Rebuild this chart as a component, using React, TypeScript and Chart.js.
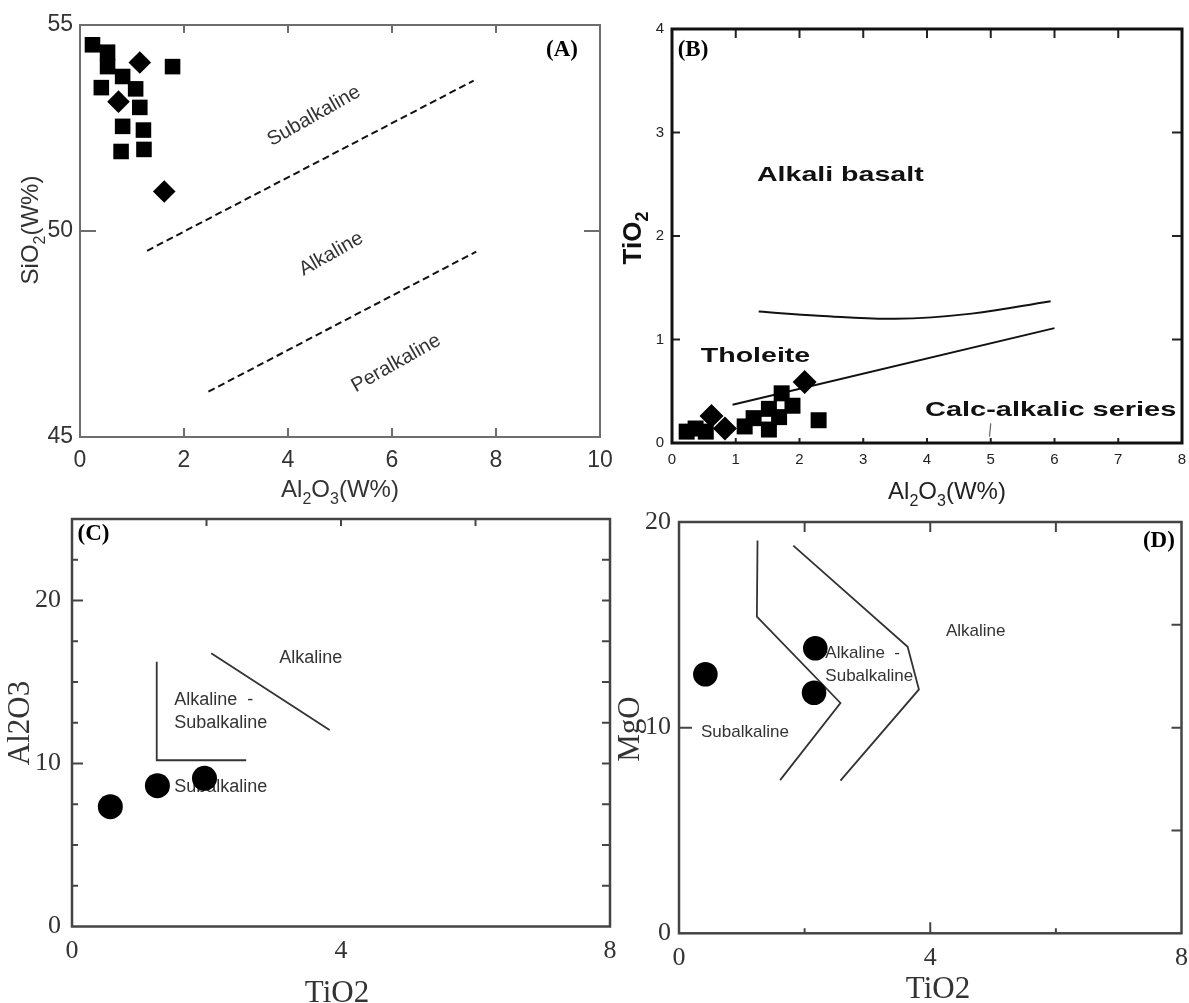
import React, { useEffect, useRef } from "react";
import { Chart, registerables } from "chart.js";

Chart.register(...registerables);

// ---------------- Panel A : SiO2 vs Al2O3 ----------------
const A_SQ_X = [0.24, 0.53, 0.53, 0.82, 0.41, 1.07, 1.78, 1.15, 0.82, 1.22, 0.79, 1.23];
const A_SQ_Y = [54.52, 54.34, 53.99, 53.75, 53.48, 53.45, 53.99, 53.0, 52.54, 52.45, 51.93, 51.98];
const A_DI_X = [1.15, 0.74, 1.62];
const A_DI_Y = [54.09, 53.14, 50.96];
const A_DASH1_X = [1.29, 7.57];
const A_DASH1_Y = [49.52, 53.65];
const A_DASH2_X = [2.47, 7.62];
const A_DASH2_Y = [46.1, 49.5];
const A_X_TICKS = [0, 2, 4, 6, 8, 10];
const A_Y_TICKS = [45, 50, 55];

// ---------------- Panel B : TiO2 vs Al2O3 ----------------
const B_SQ_X = [0.23, 0.37, 0.53, 1.14, 1.28, 1.52, 1.52, 1.68, 1.72, 1.89, 2.3];
const B_SQ_Y = [0.11, 0.14, 0.11, 0.16, 0.24, 0.13, 0.33, 0.25, 0.48, 0.36, 0.22];
const B_DI_X = [0.62, 0.83, 2.08];
const B_DI_Y = [0.26, 0.14, 0.59];
const B_UPPER_X = [1.36, 2.3, 3.5, 4.7, 5.94];
const B_UPPER_Y = [1.27, 1.23, 1.2, 1.25, 1.37];
const B_LOWER_X = [0.95, 6.0];
const B_LOWER_Y = [0.37, 1.11];
const B_MARK_X = [5.0, 4.98];
const B_MARK_Y = [0.19, 0.06];
const B_X_TICKS = [0, 1, 2, 3, 4, 5, 6, 7, 8];
const B_Y_TICKS = [0, 1, 2, 3, 4];

// ---------------- Panel C : Al2O3 vs TiO2 ----------------
const C_PTS_X = [0.57, 1.27, 1.97];
const C_PTS_Y = [7.35, 8.64, 9.09];
const C_L_X = [1.26, 1.26, 2.59];
const C_L_Y = [16.25, 10.2, 10.2];
const C_DIAG_X = [2.07, 3.83];
const C_DIAG_Y = [16.76, 12.06];
const C_X_TICKS = [0, 4, 8];
const C_Y_TICKS = [0, 10, 20];

// ---------------- Panel D : MgO vs TiO2 ----------------
const D_PTS_X = [0.42, 2.17, 2.15];
const D_PTS_Y = [12.6, 13.86, 11.7];
const D_IN_X = [1.25, 1.24, 2.57, 1.61];
const D_IN_Y = [19.1, 15.4, 11.2, 7.45];
const D_OUT_X = [1.82, 3.64, 3.82, 2.57];
const D_OUT_Y = [18.85, 13.93, 11.86, 7.42];
const D_X_TICKS = [0, 4, 8];
const D_Y_TICKS = [0, 10, 20];

const SANS = "'Liberation Sans', Arial, sans-serif";
const SERIF = "'Liberation Serif', 'Times New Roman', serif";

const pts = (xs: number[], ys: number[]) => xs.map((x, i) => ({ x, y: ys[i] }));

type Part = { t: string; sub?: boolean };
type TickMark = { v: number; l: number };
type Label = {
  text: string;
  x: number;
  y: number;
  font: string;
  color: string;
  align?: CanvasTextAlign;
  rot?: number;
  sx?: number;
};
type Title = {
  parts: Part[];
  size: number;
  family: string;
  weight?: string;
  color: string;
  cx: number;
  base: number;
  vertical?: boolean;
};
type Deco = {
  frameColor: string;
  frameWidth: number;
  tickColor: string;
  tickWidth: number;
  top?: TickMark[];
  bottom?: TickMark[];
  left?: TickMark[];
  right?: TickMark[];
  labels: Label[];
  titles: Title[];
};

const marks = (vals: number[], l: number): TickMark[] => vals.map((v) => ({ v, l }));

function drawTitle(ctx: CanvasRenderingContext2D, t: Title) {
  const w = t.weight || "normal";
  const mainFont = `${w} ${t.size}px ${t.family}`;
  const subFont = `${w} ${Math.round(t.size * 0.68)}px ${t.family}`;
  const widths = t.parts.map((p) => {
    ctx.font = p.sub ? subFont : mainFont;
    return ctx.measureText(p.t).width;
  });
  const total = widths.reduce((a, b) => a + b, 0);
  ctx.save();
  if (t.vertical) {
    ctx.translate(t.base, t.cx);
    ctx.rotate(-Math.PI / 2);
  } else {
    ctx.translate(t.cx, t.base);
  }
  ctx.fillStyle = t.color;
  ctx.textBaseline = "alphabetic";
  ctx.textAlign = "left";
  let x = -total / 2;
  t.parts.forEach((p, i) => {
    ctx.font = p.sub ? subFont : mainFont;
    ctx.fillText(p.t, x, p.sub ? t.size * 0.28 : 0);
    x += widths[i];
  });
  ctx.restore();
}

function makeDeco(cfg: Deco) {
  return {
    id: "deco",
    beforeDatasetsDraw(chart: any) {
      const { ctx, chartArea: a, scales } = chart;
      const xs = scales.x;
      const ys = scales.y;
      ctx.save();
      for (const t of cfg.labels) {
        ctx.save();
        ctx.translate(xs.getPixelForValue(t.x), ys.getPixelForValue(t.y));
        if (t.rot) ctx.rotate((t.rot * Math.PI) / 180);
        if (t.sx) ctx.scale(t.sx, 1);
        ctx.font = t.font;
        ctx.fillStyle = t.color;
        ctx.textAlign = t.align || "center";
        ctx.textBaseline = "middle";
        ctx.fillText(t.text, 0, 0);
        ctx.restore();
      }
      ctx.strokeStyle = cfg.tickColor;
      ctx.lineWidth = cfg.tickWidth;
      ctx.beginPath();
      (cfg.bottom || []).forEach((m) => {
        const p = xs.getPixelForValue(m.v);
        ctx.moveTo(p, a.bottom);
        ctx.lineTo(p, a.bottom - m.l);
      });
      (cfg.top || []).forEach((m) => {
        const p = xs.getPixelForValue(m.v);
        ctx.moveTo(p, a.top);
        ctx.lineTo(p, a.top + m.l);
      });
      (cfg.left || []).forEach((m) => {
        const p = ys.getPixelForValue(m.v);
        ctx.moveTo(a.left, p);
        ctx.lineTo(a.left + m.l, p);
      });
      (cfg.right || []).forEach((m) => {
        const p = ys.getPixelForValue(m.v);
        ctx.moveTo(a.right, p);
        ctx.lineTo(a.right - m.l, p);
      });
      ctx.stroke();
      ctx.strokeStyle = cfg.frameColor;
      ctx.lineWidth = cfg.frameWidth;
      ctx.strokeRect(a.left, a.top, a.right - a.left, a.bottom - a.top);
      ctx.restore();
    },
    afterDraw(chart: any) {
      const ctx = chart.ctx;
      cfg.titles.forEach((t) => drawTitle(ctx, t));
    },
  };
}

function axis(
  min: number,
  max: number,
  ticks: number[],
  font: any,
  color: string,
  padding: number,
  size: number,
  vertical: boolean
) {
  return {
    type: "linear",
    min,
    max,
    grid: { display: false, drawTicks: false },
    border: { display: false },
    ticks: { font, color, padding, autoSkip: false, maxRotation: 0 },
    afterBuildTicks: (s: any) => {
      s.ticks = ticks.map((v) => ({ value: v }));
    },
    afterFit: (s: any) => {
      if (vertical) s.width = size;
      else s.height = size;
    },
  };
}

const markerSet = (data: any[], style: string, radius: number) => ({
  data,
  pointStyle: style,
  pointRadius: radius,
  backgroundColor: "#000",
  borderColor: "#000",
  borderWidth: 0,
  showLine: false,
  clip: false,
});

const lineSet = (data: any[], color: string, width: number, dash: number[] = [], tension = 0) => ({
  data,
  showLine: true,
  pointRadius: 0,
  borderColor: color,
  borderWidth: width,
  borderDash: dash,
  tension,
  fill: false,
});

type Panel = {
  left: number;
  top: number;
  width: number;
  height: number;
  config: () => any;
};

function baseOptions(padding: any, scales: any) {
  return {
    responsive: false,
    animation: false,
    events: [],
    layout: { padding },
    plugins: { legend: { display: false }, tooltip: { enabled: false } },
    scales,
  };
}

// Panel A: plot area 80..600 x 25..437 (page coords)
const panelA: Panel = {
  left: 0,
  top: 0,
  width: 630,
  height: 510,
  config: () => ({
    type: "scatter",
    data: {
      datasets: [
        markerSet(pts(A_SQ_X, A_SQ_Y), "rect", 11),
        markerSet(pts(A_DI_X, A_DI_Y), "rectRot", 11.3),
        lineSet(pts(A_DASH1_X, A_DASH1_Y), "#111", 2, [7, 4]),
        lineSet(pts(A_DASH2_X, A_DASH2_Y), "#111", 2, [7, 4]),
      ],
    },
    options: baseOptions(
      { top: 25, right: 30, left: 0, bottom: 0 },
      {
        x: axis(0, 10, A_X_TICKS, { family: SANS, size: 23 }, "#333", 10, 73, false),
        y: axis(45, 55, A_Y_TICKS, { family: SANS, size: 23 }, "#333", 7, 80, true),
      }
    ),
    plugins: [
      makeDeco({
        frameColor: "#6e6e6e",
        frameWidth: 2,
        tickColor: "#6e6e6e",
        tickWidth: 2,
        bottom: marks([2, 4, 6, 8], 9),
        top: marks([2, 4, 6, 8], 8),
        left: marks([50], 16),
        right: marks([50], 16),
        labels: [
          { text: "Subalkaline", x: 4.5, y: 52.79, font: `20px ${SANS}`, color: "#333", rot: -29.5 },
          { text: "Alkaline", x: 4.83, y: 49.44, font: `20px ${SANS}`, color: "#333", rot: -29.5 },
          { text: "Peralkaline", x: 6.08, y: 46.79, font: `20px ${SANS}`, color: "#333", rot: -29.5 },
          { text: "(A)", x: 9.27, y: 54.4, font: `bold 23px ${SERIF}`, color: "#000" },
        ],
        titles: [
          {
            parts: [{ t: "Al" }, { t: "2", sub: true }, { t: "O" }, { t: "3", sub: true }, { t: "(W%)" }],
            size: 24,
            family: SANS,
            color: "#333",
            cx: 340,
            base: 497,
          },
          {
            parts: [{ t: "SiO" }, { t: "2", sub: true }, { t: "(W%)" }],
            size: 24,
            family: SANS,
            color: "#333",
            cx: 230,
            base: 38,
            vertical: true,
          },
        ],
      }),
    ],
  }),
};

// Panel B: plot area 672..1182 x 29..443 (page coords)
const panelB: Panel = {
  left: 600,
  top: 0,
  width: 602,
  height: 510,
  config: () => ({
    type: "scatter",
    data: {
      datasets: [
        markerSet(pts(B_DI_X, B_DI_Y), "rectRot", 12),
        markerSet(pts(B_SQ_X, B_SQ_Y), "rect", 11.3),
        lineSet(pts(B_UPPER_X, B_UPPER_Y), "#111", 2, [], 0.4),
        lineSet(pts(B_LOWER_X, B_LOWER_Y), "#111", 2),
        lineSet(pts(B_MARK_X, B_MARK_Y), "#666", 1.2),
      ],
    },
    options: baseOptions(
      { top: 29, right: 20, left: 0, bottom: 0 },
      {
        x: axis(0, 8, B_X_TICKS, { family: SANS, size: 15 }, "#222", 8, 67, false),
        y: axis(0, 4, B_Y_TICKS, { family: SANS, size: 15 }, "#222", 8, 72, true),
      }
    ),
    plugins: [
      makeDeco({
        frameColor: "#111",
        frameWidth: 3,
        tickColor: "#222",
        tickWidth: 2,
        bottom: marks([1, 2, 3, 4, 5, 6, 7], 5),
        top: marks([1, 2, 3, 4, 5, 6, 7], 9),
        left: marks([1, 2, 3], 8),
        right: marks([1, 2, 3], 10),
        labels: [
          { text: "Alkali basalt", x: 2.64, y: 2.59, font: `bold 21px ${SANS}`, color: "#111", sx: 1.36 },
          { text: "Tholeite", x: 1.31, y: 0.84, font: `bold 21px ${SANS}`, color: "#111", sx: 1.36 },
          { text: "Calc-alkalic series", x: 5.94, y: 0.32, font: `bold 21px ${SANS}`, color: "#111", sx: 1.38 },
          { text: "(B)", x: 0.33, y: 3.8, font: `bold 23px ${SERIF}`, color: "#000" },
        ],
        titles: [
          {
            parts: [{ t: "Al" }, { t: "2", sub: true }, { t: "O" }, { t: "3", sub: true }, { t: "(W%)" }],
            size: 24,
            family: SANS,
            color: "#222",
            cx: 347,
            base: 499,
          },
          {
            parts: [{ t: "TiO" }, { t: "2", sub: true }],
            size: 26,
            family: SANS,
            weight: "bold",
            color: "#111",
            cx: 238,
            base: 41,
            vertical: true,
          },
        ],
      }),
    ],
  }),
};

// Panel C: plot area 72..610 x 519..926.5 (page coords)
const panelC: Panel = {
  left: 0,
  top: 490,
  width: 630,
  height: 513,
  config: () => ({
    type: "scatter",
    data: {
      datasets: [
        markerSet(pts(C_PTS_X, C_PTS_Y), "circle", 12.5),
        lineSet(pts(C_L_X, C_L_Y), "#333", 1.8),
        lineSet(pts(C_DIAG_X, C_DIAG_Y), "#333", 1.8),
      ],
    },
    options: baseOptions(
      { top: 29, right: 20, left: 0, bottom: 0 },
      {
        x: axis(0, 8, C_X_TICKS, { family: SERIF, size: 26 }, "#333", 9, 76.5, false),
        y: axis(0, 25, C_Y_TICKS, { family: SERIF, size: 26 }, "#333", 11, 72, true),
      }
    ),
    plugins: [
      makeDeco({
        frameColor: "#444",
        frameWidth: 2.5,
        tickColor: "#444",
        tickWidth: 2,
        top: marks([2, 4, 6], 7),
        left: [...marks([2.5, 5, 7.5, 12.5, 15, 17.5, 22.5], 6), ...marks([10, 20], 11)],
        right: [...marks([2.5, 5, 7.5, 12.5, 15, 17.5, 22.5], 8), ...marks([10, 20], 8)],
        labels: [
          { text: "Alkaline", x: 3.08, y: 16.5, font: `18px ${SANS}`, color: "#333", align: "left" },
          { text: "Alkaline  -", x: 1.52, y: 13.9, font: `18px ${SANS}`, color: "#333", align: "left" },
          { text: "Subalkaline", x: 1.52, y: 12.5, font: `18px ${SANS}`, color: "#333", align: "left" },
          { text: "Subalkaline", x: 1.52, y: 8.54, font: `18px ${SANS}`, color: "#333", align: "left" },
          { text: "(C)", x: 0.32, y: 24.08, font: `bold 23px ${SERIF}`, color: "#000" },
        ],
        titles: [
          { parts: [{ t: "TiO2" }], size: 31, family: SERIF, color: "#333", cx: 337, base: 512 },
          { parts: [{ t: "Al2O3" }], size: 31, family: SERIF, color: "#333", cx: 233, base: 29, vertical: true },
        ],
      }),
    ],
  }),
};

// Panel D: plot area 679..1181.5 x 522..933.3 (page coords)
const panelD: Panel = {
  left: 615,
  top: 490,
  width: 590,
  height: 513,
  config: () => ({
    type: "scatter",
    data: {
      datasets: [
        markerSet(pts(D_PTS_X, D_PTS_Y), "circle", 12.3),
        lineSet(pts(D_IN_X, D_IN_Y), "#333", 1.8),
        lineSet(pts(D_OUT_X, D_OUT_Y), "#333", 1.8),
      ],
    },
    options: baseOptions(
      { top: 32, right: 23.5, left: 0, bottom: 0 },
      {
        x: axis(0, 8, D_X_TICKS, { family: SERIF, size: 26 }, "#333", 9, 69.7, false),
        y: axis(0, 20, D_Y_TICKS, { family: SERIF, size: 26 }, "#333", 8, 64, true),
      }
    ),
    plugins: [
      makeDeco({
        frameColor: "#444",
        frameWidth: 2.5,
        tickColor: "#444",
        tickWidth: 2,
        top: marks([2, 4, 6], 10),
        bottom: [
          { v: 2, l: 5 },
          { v: 4, l: 11 },
          { v: 6, l: 5 },
        ],
        left: marks([10], 13),
        right: marks([5, 10, 15], 10),
        labels: [
          { text: "Alkaline", x: 4.25, y: 14.7, font: `17px ${SANS}`, color: "#333", align: "left" },
          { text: "Alkaline  -", x: 2.33, y: 13.6, font: `17px ${SANS}`, color: "#333", align: "left" },
          { text: "Subalkaline", x: 2.33, y: 12.5, font: `17px ${SANS}`, color: "#333", align: "left" },
          { text: "Subalkaline", x: 0.35, y: 9.75, font: `17px ${SANS}`, color: "#333", align: "left" },
          { text: "(D)", x: 7.64, y: 19.07, font: `bold 23px ${SERIF}`, color: "#000" },
        ],
        titles: [
          { parts: [{ t: "TiO2" }], size: 31, family: SERIF, color: "#333", cx: 323, base: 508 },
          { parts: [{ t: "MgO" }], size: 31, family: SERIF, color: "#333", cx: 239, base: 24, vertical: true },
        ],
      }),
    ],
  }),
};

const PANELS: Panel[] = [panelA, panelB, panelC, panelD];

function PanelCanvas({ panel }: { panel: Panel }) {
  const ref = useRef<HTMLCanvasElement | null>(null);
  useEffect(() => {
    if (!ref.current) return;
    const chart = new Chart(ref.current, panel.config() as any);
    return () => chart.destroy();
  }, [panel]);
  return (
    <canvas
      ref={ref}
      width={panel.width}
      height={panel.height}
      style={{
        position: "absolute",
        left: panel.left,
        top: panel.top,
        width: panel.width,
        height: panel.height,
      }}
    />
  );
}

export default function App() {
  return (
    <div
      style={{
        position: "absolute",
        left: 0,
        top: 0,
        width: 1189,
        height: 1003,
        background: "#fff",
        overflow: "hidden",
      }}
    >
      {PANELS.map((p, i) => (
        <PanelCanvas key={i} panel={p} />
      ))}
    </div>
  );
}
